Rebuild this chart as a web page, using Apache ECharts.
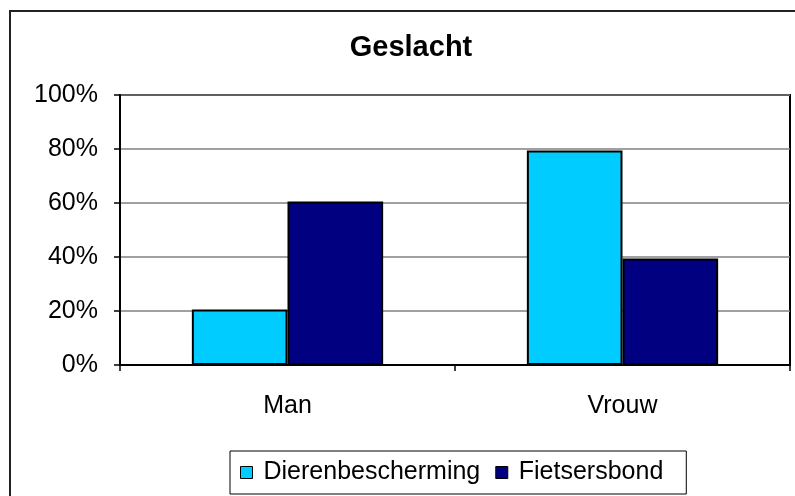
<!DOCTYPE html>
<html>
<head>
<meta charset="utf-8">
<script src="https://cdn.jsdelivr.net/npm/echarts@6/dist/echarts.min.js"></script>
<style>
html,body{margin:0;padding:0;background:#fff;}
#chart{width:795px;height:496px;}
</style>
</head>
<body>
<div id="chart"></div>
<script>
const categories = ['Man', 'Vrouw'];
const seriesNames = ['Dierenbescherming', 'Fietsersbond'];
const dierenbescherming = [20.6, 79.4];
const fietsersbond = [60.6, 39.4];
const yTicks = [0, 20, 40, 60, 80, 100];

const FONT = '"Liberation Sans", Arial, sans-serif';
const chart = echarts.init(document.getElementById('chart'), null, {renderer: 'canvas'});
chart.setOption({
  animation: false,
  backgroundColor: '#fff',
  textStyle: {fontFamily: FONT},
  graphic: [{
    type: 'rect',
    shape: {x: 10, y: 11, width: 800, height: 500},
    style: {fill: 'none', stroke: '#222', lineWidth: 2},
    silent: true
  }],
  title: {
    text: 'Geslacht',
    left: 406,
    textAlign: 'center',
    top: 28,
    textStyle: {fontFamily: FONT, fontSize: 29, fontWeight: 'bold', color: '#000'}
  },
  grid: {
    left: 120, right: 5, top: 95, bottom: 131,
    show: true, borderColor: '#000', borderWidth: 2, backgroundColor: 'transparent'
  },
  legend: {
    data: seriesNames,
    left: 230, top: 451,
    orient: 'horizontal',
    icon: 'rect',
    itemWidth: 12, itemHeight: 12,
    itemGap: 15,
    padding: [9, 23, 9, 10],
    borderColor: '#000', borderWidth: 1,
    itemStyle: {borderColor: '#000', borderWidth: 1},
    textStyle: {fontFamily: FONT, fontSize: 25, color: '#000', padding: [0, 0, 0, 6]}
  },
  xAxis: {
    type: 'category',
    data: categories,
    axisLine: {lineStyle: {color: '#000', width: 2}},
    axisTick: {show: true, length: 6, lineStyle: {color: '#000', width: 1.5}},
    axisLabel: {fontFamily: FONT, fontSize: 25, color: '#000', margin: 29},
    splitLine: {show: false}
  },
  yAxis: {
    type: 'value',
    min: yTicks[0], max: yTicks[yTicks.length - 1], interval: 20,
    axisLine: {show: true, lineStyle: {color: '#000', width: 2}},
    axisTick: {show: true, length: 6, lineStyle: {color: '#000', width: 1.5}},
    axisLabel: {fontFamily: FONT, fontSize: 25, color: '#000', margin: 22, formatter: '{value}%'},
    splitLine: {show: true, lineStyle: {color: '#808080', width: 1.5}}
  },
  series: [
    {
      name: seriesNames[0], type: 'bar', data: dierenbescherming,
      barGap: '0%', barCategoryGap: '42.9%',
      itemStyle: {color: '#00CCFF', borderColor: '#000', borderWidth: 2}
    },
    {
      name: seriesNames[1], type: 'bar', data: fietsersbond,
      barGap: '0%', barCategoryGap: '42.9%',
      itemStyle: {color: '#000080', borderColor: '#000', borderWidth: 2}
    }
  ]
});
</script>
</body>
</html>
